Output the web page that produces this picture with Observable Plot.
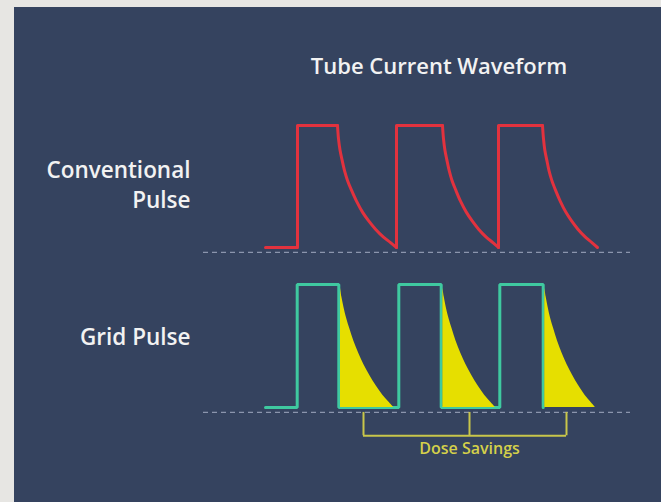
<!DOCTYPE html>
<html><head><meta charset="utf-8">
<script src="https://cdn.jsdelivr.net/npm/d3@7"></script>
<script src="https://cdn.jsdelivr.net/npm/@observablehq/plot@0.6"></script>
<style>
html,body{margin:0;padding:0;background:#e7e6e3;width:661px;height:502px;overflow:hidden;position:relative;}
#panel{position:absolute;left:14px;top:7px;width:647px;height:495px;background:#35435f;}
#title{position:absolute;left:239px;top:54px;width:400px;text-align:center;font-family:"Open Sans",sans-serif;font-weight:600;font-size:22px;line-height:22px;color:#f2f2f2;}
.plot{position:absolute;left:0;}
</style></head>
<body>
<div id="panel"></div>
<div id="title">Tube Current Waveform</div>
<div id="p1" class="plot" style="top:100px"></div>
<div id="p2" class="plot" style="top:260px"></div>
<script>
// Conventional pulse (time in ms, level relative to peak); part = straight step or exponential tail
const redPart = ["s1","s1","s1","s1",
  "d1","d1","d1","d1","d1","d1","d1","d1","d1","d1","d1","d1","d1","d1",
  "s2","s2","s2",
  "d2","d2","d2","d2","d2","d2","d2","d2","d2","d2","d2","d2","d2","d2",
  "s3","s3","s3",
  "d3","d3","d3","d3","d3","d3","d3","d3","d3","d3","d3","d3","d3","d3"];
const redTime = [6.8, 10.0, 10.0, 14.0,
  14.0, 14.1, 14.25, 14.45, 14.7, 15.0, 15.4, 15.9, 16.5, 17.1, 17.8, 18.6, 19.3, 19.9,
  19.9, 19.9, 24.5,
  24.5, 24.6, 24.74, 24.93, 25.17, 25.45, 25.83, 26.3, 26.88, 27.45, 28.11, 28.87, 29.54, 30.1,
  30.1, 30.1, 34.5,
  34.5, 34.6, 34.73, 34.92, 35.15, 35.43, 35.8, 36.27, 36.83, 37.39, 38.04, 38.79, 39.44, 40.0];
const redLevel = [0, 0, 1, 1,
  1.0, 0.89, 0.80, 0.72, 0.63, 0.55, 0.47, 0.38, 0.29, 0.22, 0.15, 0.085, 0.04, 0,
  0, 1, 1,
  1.0, 0.89, 0.80, 0.72, 0.63, 0.55, 0.47, 0.38, 0.29, 0.22, 0.15, 0.085, 0.04, 0,
  0, 1, 1,
  1.0, 0.89, 0.80, 0.72, 0.63, 0.55, 0.47, 0.38, 0.29, 0.22, 0.15, 0.085, 0.04, 0];

// Grid pulse
const tealTime = [6.8, 9.97, 9.97, 14.13, 14.13, 20.13, 20.13, 24.37, 24.37, 30.23, 30.23, 34.57, 34.57];
const tealLevel = [0, 0, 1, 1, 0, 0, 1, 1, 0, 0, 1, 1, 0];

// Dose savings (tail cut off by grid pulsing)
const savingsPulse = [1,1,1,1,1,1,1,1,1,1,1,1,1, 2,2,2,2,2,2,2,2,2,2,2,2,2, 3,3,3,3,3,3,3,3,3,3,3,3,3];
const savingsTime = [14.3, 14.43, 14.63, 14.93, 15.23, 15.63, 16.13, 16.63, 17.23, 17.83, 18.53, 19.13, 19.63,
  24.54, 24.67, 24.86, 25.16, 25.46, 25.85, 26.34, 26.84, 27.43, 28.02, 28.71, 29.3, 29.8,
  34.73, 34.86, 35.05, 35.33, 35.62, 36.0, 36.47, 36.95, 37.52, 38.09, 38.75, 39.32, 39.8];
const savingsLevel = [0.97, 0.90, 0.82, 0.72, 0.64, 0.54, 0.44, 0.35, 0.26, 0.18, 0.10, 0.045, 0,
  0.97, 0.90, 0.82, 0.72, 0.64, 0.54, 0.44, 0.35, 0.26, 0.18, 0.10, 0.045, 0,
  0.97, 0.90, 0.82, 0.72, 0.64, 0.54, 0.44, 0.35, 0.26, 0.18, 0.10, 0.045, 0];

const bracketTicks = [16.6, 27.2, 36.9];
const baselineLevel = -0.04;
const bracketLevel = -0.23;
const bracketLabel = "Dose Savings";
const rowLabels = ["Conventional\nPulse", "Grid Pulse"];

const red = redTime.map((t, i) => ({t, v: redLevel[i], part: redPart[i]}));
const teal = tealTime.map((t, i) => ({t, v: tealLevel[i]}));
const savings = savingsTime.map((t, i) => ({t, v: savingsLevel[i], p: savingsPulse[i]}));

const common = {
  width: 661,
  marginLeft: 203,
  marginRight: 31,
  x: {domain: [0.6, 43.3], axis: null},
  y: {domain: [0, 1], axis: null},
  style: {background: "transparent", overflow: "visible", fontFamily: "Open Sans"}
};
const dash = Plot.ruleY([baselineLevel], {stroke: "#8b95ad", strokeWidth: 1.3, strokeDasharray: "5,4"});
const labelOpts = {frameAnchor: "left", textAnchor: "end", dx: -13, fontSize: 22.5, fontWeight: 600, fill: "#f2f2f2", lineHeight: 1.33};
const redColor = "#e2323e";

const p1 = Plot.plot({
  ...common, height: 160, marginTop: 25, marginBottom: 13,
  marks: [
    dash,
    Plot.line(red.filter(d => d.part[0] === "s"), {x: "t", y: "v", z: "part", stroke: redColor, strokeWidth: 3}),
    Plot.line(red.filter(d => d.part[0] === "d"), {x: "t", y: "v", z: "part", stroke: redColor, strokeWidth: 3, curve: "catmull-rom"}),
    Plot.text([rowLabels[0]], {...labelOpts, text: d => d, dy: -3})
  ]
});
document.getElementById("p1").appendChild(p1);

const p2 = Plot.plot({
  ...common, height: 242, marginTop: 24, marginBottom: 95,
  marks: [
    dash,
    Plot.line(teal, {x: "t", y: "v", stroke: "#3fc9a0", strokeWidth: 3, strokeLinejoin: "miter"}),
    Plot.areaY(savings, {x: "t", y: "v", z: "p", fill: "#e6df00", curve: "catmull-rom"}),
    Plot.ruleX(bracketTicks, {x: d => d, y1: baselineLevel, y2: bracketLevel, stroke: "#c9c64a", strokeWidth: 2}),
    Plot.ruleY([bracketLevel], {x1: bracketTicks[0], x2: bracketTicks[2], stroke: "#c9c64a", strokeWidth: 2}),
    Plot.text([bracketLabel], {x: bracketTicks[1], y: -0.34, text: d => d, fontSize: 16, fontWeight: 600, fill: "#d4d04a"}),
    Plot.text([rowLabels[1]], {...labelOpts, text: d => d, dy: -11})
  ]
});
document.getElementById("p2").appendChild(p2);
</script>
</body></html>
